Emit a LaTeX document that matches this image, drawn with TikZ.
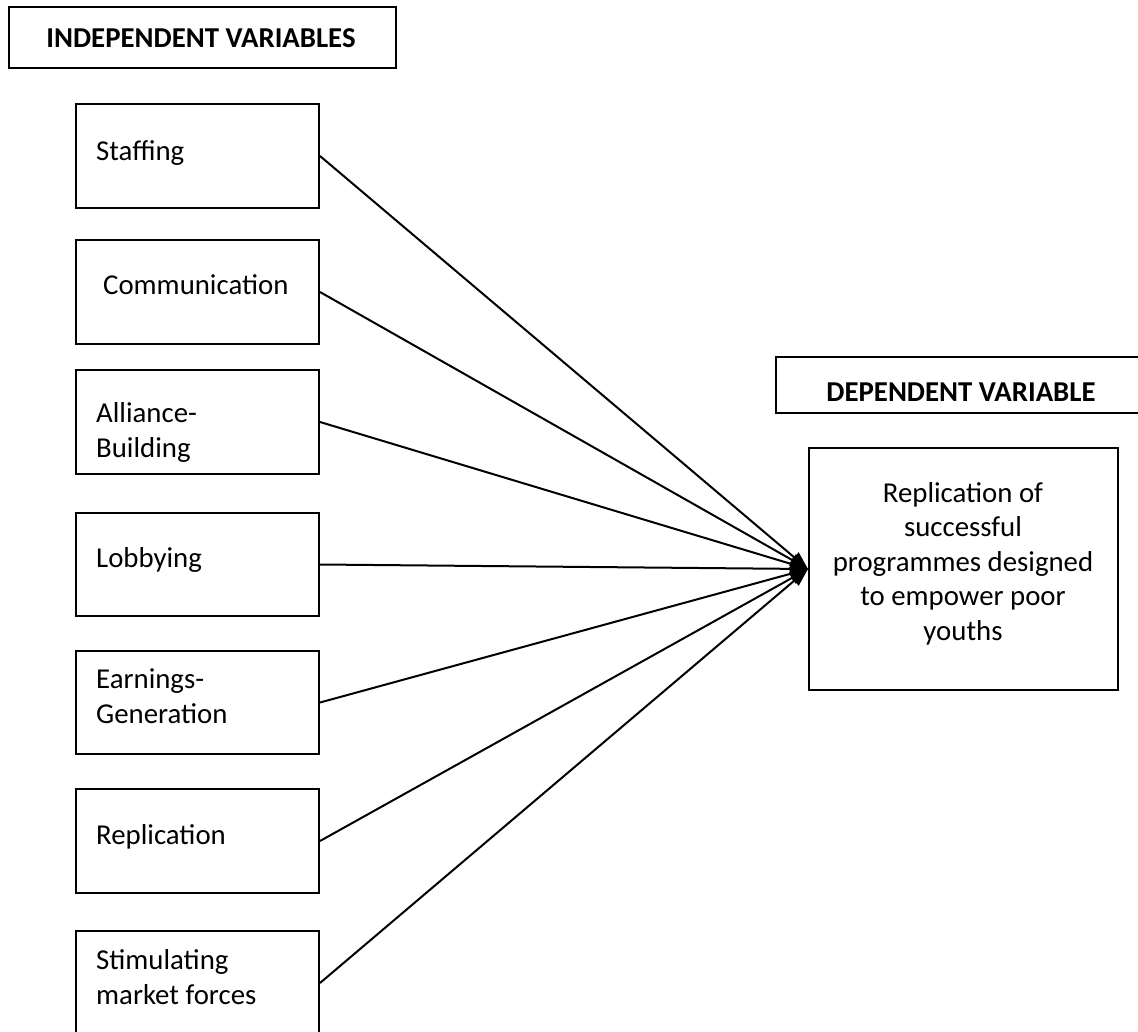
\documentclass[tikz,border=0pt]{standalone}
\usepackage{fontspec}
\setmainfont{Carlito}
\usetikzlibrary{arrows.meta}
\begin{document}
\begin{tikzpicture}[x=1pt,y=-1pt,
  box/.style={draw, line width=2pt, minimum width=243pt, minimum height=104pt, anchor=north west, inner sep=0pt},
  lbl/.style={anchor=base west, inner sep=0pt, font=\fontsize{28.8}{34.5}\selectfont, align=left},
  hd/.style={anchor=base, inner sep=0pt, font=\fontsize{28.8}{34.5}\selectfont\bfseries},
  conn/.style={line width=2pt, -{Triangle[length=18pt,width=13pt]}}]
\clip (0,0) rectangle (1138,1031);
% header
\node[box, minimum width=387pt, minimum height=61pt] (hdr) at (8,6) {};
\node[hd] (hdrt) at (201,47) {INDEPENDENT VARIABLES};
% independent boxes
\node[box] (b1) at (75,103) {};
\node[box] (b2) at (75,239) {};
\node[box] (b3) at (75,369) {};
\node[box, minimum height=103pt] (b4) at (75,512) {};
\node[box, minimum height=103pt] (b5) at (75,650) {};
\node[box] (b6) at (75,788) {};
\node[box] (b7) at (75,930) {};
\node[lbl] (t1) at (96,160) {Staffing};
\node[lbl] (t2) at (103,294) {Communication};
\node[lbl] (t3) at (96,457) {Alliance-\\Building};
\node[lbl] (t4) at (96,567) {Lobbying};
\node[lbl] (t5) at (96,723) {Earnings-\\Generation};
\node[lbl] (t6) at (96,844) {Replication};
\node[lbl] (t7) at (96,1004) {Stimulating\\market forces};
% dependent
\draw[line width=2pt] (1142,357) -| (776,413) -- (1142,413);
\node[hd] (dvt) at (961,401) {DEPENDENT VARIABLE};
\node[box, minimum width=309pt, minimum height=242pt] (dep) at (808,447) {};
\node[anchor=base, inner sep=0pt, font=\fontsize{28.8}{34.5}\selectfont, align=center] (dept) at (963,640)
  {Replication of\\successful\\programmes designed\\to empower poor\\youths};
% connectors
\foreach \b in {b1,b2,b3,b4,b5,b6,b7}
  \draw[conn] (\b.east) -- (dep.west);
\end{tikzpicture}
\end{document}
